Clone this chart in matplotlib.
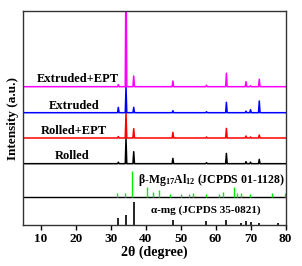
import numpy as np
import matplotlib
matplotlib.use('Agg')
import matplotlib.pyplot as plt

plt.rcParams['font.family'] = 'Liberation Serif'
plt.rcParams['font.weight'] = 'bold'
plt.rcParams['mathtext.fontset'] = 'custom'
plt.rcParams['mathtext.rm'] = 'Liberation Serif:bold'
plt.rcParams['mathtext.bf'] = 'Liberation Serif:bold'
plt.rcParams['mathtext.default'] = 'bf'

# peak positions (2theta) and heights
peaks = [32.2, 34.4, 36.6, 47.8, 57.4, 63.1, 68.7, 70.0, 72.5]
rolled = [1.5, 25, 12, 5.3, 1, 10.3, 2, 1.5, 4.3]
rolled_ept = [1.5, 25.5, 9.3, 5.6, 1, 9.6, 2, 1, 3]
extruded = [5.3, 26, 5.3, 2, 1, 10.4, 1.5, 3, 11.7]
extruded_ept = [2, 130, 10.7, 5.7, 1.5, 13.4, 5, 1, 7.4]

labels = ['Rolled', 'Rolled+EPT', 'Extruded', 'Extruded+EPT']
colors = ['black', '#ff0000', '#0000ff', '#ff00ff']

# reference patterns (stick positions and heights)
beta_pos = [31.9, 34.1, 36.2, 40.3, 42.0, 43.9, 47.1, 50.2, 52.3, 53.6, 57.4,
            61.1, 62.2, 65.2, 66.1, 67.3, 69.9, 76.1, 79.9]
beta_int = [4, 4.5, 26.5, 10, 5.6, 7, 3, 3, 3, 4, 3,
            3.6, 5.6, 10.6, 4.7, 4, 3, 4.7, 4]
alpha_pos = [32.2, 34.4, 36.6, 47.8, 57.4, 63.1, 67.3, 68.6, 70.0, 72.5, 77.8]
alpha_int = [7, 10, 23, 5, 4, 5.5, 2, 4.5, 3.5, 2, 2.5]


def profile(pos, hts, w=0.22):
    x = [5]
    y = [0]
    for p, h in zip(pos, hts):
        x += [p - w, p, p + w]
        y += [0, h, 0]
    x.append(80)
    y.append(0)
    return np.array(x), np.array(y)


fig = plt.figure(figsize=(3.02, 2.66), dpi=100)
ax = fig.add_axes([0.0768, 0.1523, 0.8686, 0.8075])

bases = [61.8, 87.5, 112.8, 138.8]
series = [rolled, rolled_ept, extruded, extruded_ept]
for s, b, c in zip(series, bases, colors):
    x, y = profile(peaks, s)
    ax.plot(x, y + b, color=c, lw=1.1)

ax.axhline(28.2, color='black', lw=1.0)
ax.vlines(beta_pos, 28.2, 28.2 + np.array(beta_int), color='#00ee00', lw=1.0)
ax.vlines(alpha_pos, 0, np.array(alpha_int), color='black', lw=1.2)

txt_pos = [(19.1, 69.5), (19.5, 94.8), (19.6, 119.8), (20.7, 146.5)]
for lab, (tx, ty) in zip(labels, txt_pos):
    ax.text(tx, ty, lab, ha='center', va='center', fontsize=9, fontweight='bold')
ax.text(58.8, 45.5, r'β-Mg$_{17}$Al$_{12}$ (JCPDS 01-1128)', ha='center',
        va='center', fontsize=8.5, fontweight='bold')
ax.text(57.1, 14.8, 'α-mg (JCPDS 35-0821)', ha='center', va='center',
        fontsize=8, fontweight='bold')

ax.set_xlim(5, 80)
ax.set_ylim(0, 214.8)
ax.set_xticks(range(10, 81, 10))
ax.set_yticks([])
ax.tick_params(axis='x', direction='out', length=3.5, width=1, labelsize=9.5, pad=2)
for sp in ax.spines.values():
    sp.set_linewidth(1.0)
    sp.set_color('#333333')
ax.set_xlabel('2θ (degree)', fontsize=10, fontweight='bold', labelpad=0)
ax.set_ylabel('Intensity (a.u.)', fontsize=9.5, fontweight='bold', labelpad=3)

fig.savefig('out.png', dpi=100)
